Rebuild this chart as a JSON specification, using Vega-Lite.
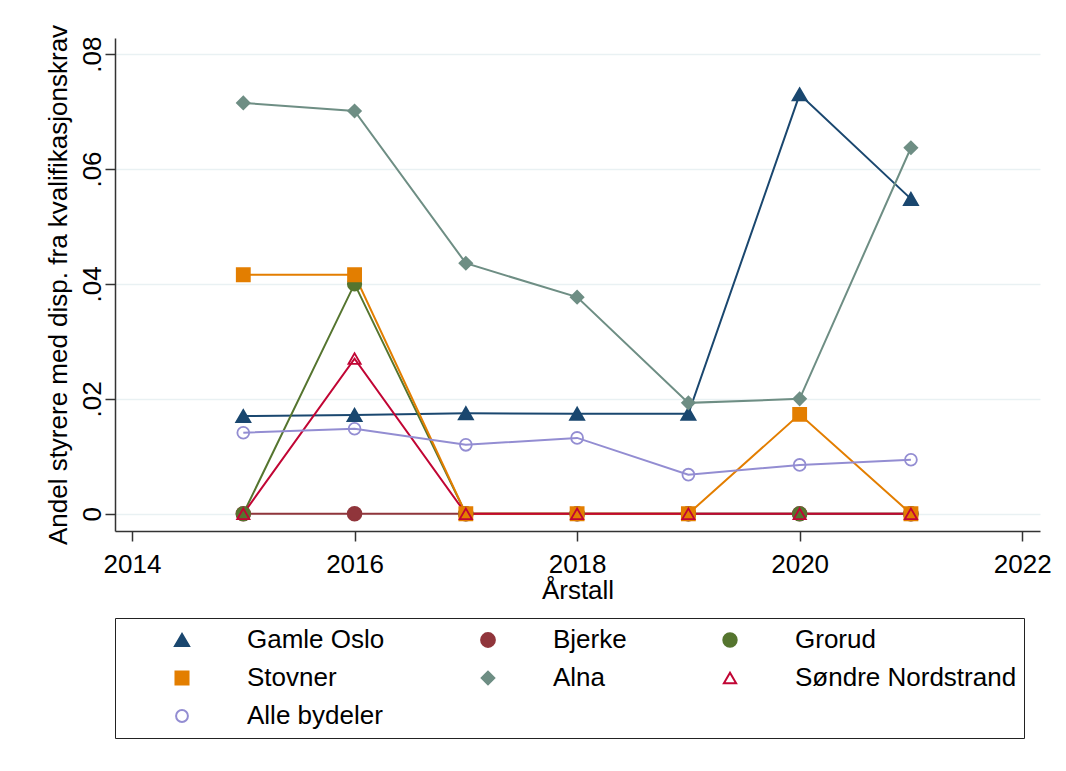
{
  "$schema": "https://vega.github.io/schema/vega-lite/v6.json",
  "autosize": {"type": "none"},
  "width": 925,
  "height": 493,
  "padding": {"left": 115, "top": 38, "right": 26, "bottom": 240},
  "background": "white",
  "config": {
    "view": {"stroke": null},
    "font": "Liberation Sans",
    "axis": {
      "labelFont": "Liberation Sans",
      "titleFont": "Liberation Sans",
      "labelFontSize": 26,
      "titleFontSize": 26,
      "titleFontWeight": "normal",
      "labelColor": "black",
      "titleColor": "black",
      "domainColor": "#333333",
      "tickColor": "#333333",
      "domainWidth": 1.5,
      "tickWidth": 1.5,
      "tickSize": 10,
      "labelOverlap": false,
      "labelFlush": false
    }
  },
  "data": {
    "values": [
      {"year": 2015, "series": "Gamle Oslo", "value": 0.0170},
      {"year": 2016, "series": "Gamle Oslo", "value": 0.0172},
      {"year": 2017, "series": "Gamle Oslo", "value": 0.0175},
      {"year": 2018, "series": "Gamle Oslo", "value": 0.0174},
      {"year": 2019, "series": "Gamle Oslo", "value": 0.0174},
      {"year": 2020, "series": "Gamle Oslo", "value": 0.0730},
      {"year": 2021, "series": "Gamle Oslo", "value": 0.0548},
      {"year": 2015, "series": "Bjerke", "value": 0},
      {"year": 2016, "series": "Bjerke", "value": 0},
      {"year": 2017, "series": "Bjerke", "value": 0},
      {"year": 2018, "series": "Bjerke", "value": 0},
      {"year": 2019, "series": "Bjerke", "value": 0},
      {"year": 2020, "series": "Bjerke", "value": 0},
      {"year": 2021, "series": "Bjerke", "value": 0},
      {"year": 2015, "series": "Grorud", "value": 0},
      {"year": 2016, "series": "Grorud", "value": 0.0400},
      {"year": 2017, "series": "Grorud", "value": 0},
      {"year": 2018, "series": "Grorud", "value": 0},
      {"year": 2019, "series": "Grorud", "value": 0},
      {"year": 2020, "series": "Grorud", "value": 0},
      {"year": 2021, "series": "Grorud", "value": 0},
      {"year": 2015, "series": "Stovner", "value": 0.0416},
      {"year": 2016, "series": "Stovner", "value": 0.0416},
      {"year": 2017, "series": "Stovner", "value": 0},
      {"year": 2018, "series": "Stovner", "value": 0},
      {"year": 2019, "series": "Stovner", "value": 0},
      {"year": 2020, "series": "Stovner", "value": 0.0173},
      {"year": 2021, "series": "Stovner", "value": 0},
      {"year": 2015, "series": "Alna", "value": 0.0715},
      {"year": 2016, "series": "Alna", "value": 0.0701},
      {"year": 2017, "series": "Alna", "value": 0.0436},
      {"year": 2018, "series": "Alna", "value": 0.0377},
      {"year": 2019, "series": "Alna", "value": 0.0193},
      {"year": 2020, "series": "Alna", "value": 0.0200},
      {"year": 2021, "series": "Alna", "value": 0.0637},
      {"year": 2015, "series": "Søndre Nordstrand", "value": 0},
      {"year": 2016, "series": "Søndre Nordstrand", "value": 0.0270},
      {"year": 2017, "series": "Søndre Nordstrand", "value": 0},
      {"year": 2018, "series": "Søndre Nordstrand", "value": 0},
      {"year": 2019, "series": "Søndre Nordstrand", "value": 0},
      {"year": 2020, "series": "Søndre Nordstrand", "value": 0},
      {"year": 2021, "series": "Søndre Nordstrand", "value": 0},
      {"year": 2015, "series": "Alle bydeler", "value": 0.0141},
      {"year": 2016, "series": "Alle bydeler", "value": 0.0148},
      {"year": 2017, "series": "Alle bydeler", "value": 0.0120},
      {"year": 2018, "series": "Alle bydeler", "value": 0.0132},
      {"year": 2019, "series": "Alle bydeler", "value": 0.0068},
      {"year": 2020, "series": "Alle bydeler", "value": 0.0085},
      {"year": 2021, "series": "Alle bydeler", "value": 0.0094}
    ]
  },
  "encoding": {
    "x": {
      "field": "year",
      "type": "quantitative",
      "scale": {"domain": [2013.847, 2022.16], "nice": false, "zero": false},
      "axis": {
        "values": [2014, 2016, 2018, 2020, 2022],
        "format": "d",
        "title": "Årstall",
        "grid": false,
        "labelPadding": 10,
        "titlePadding": 0
      }
    },
    "y": {
      "field": "value",
      "type": "quantitative",
      "scale": {"domain": [-0.003, 0.0828], "nice": false, "zero": false},
      "axis": {
        "values": [0, 0.02, 0.04, 0.06, 0.08],
        "labelExpr": "datum.value == 0 ? '0' : replace(format(datum.value, '.2f'), '0.', '.')",
        "title": "Andel styrere med disp. fra kvalifikasjonskrav",
        "grid": true,
        "gridColor": "#e9f1f3",
        "gridWidth": 1.5,
        "labelAngle": -90,
        "labelAlign": "center",
        "labelBaseline": "alphabetic",
        "labelPadding": 5,
        "titlePadding": 8
      }
    }
  },
  "layer": [
    {
      "mark": {"type": "line", "strokeWidth": 2},
      "encoding": {
        "stroke": {
          "field": "series",
          "type": "nominal",
          "scale": {
            "domain": ["Gamle Oslo", "Bjerke", "Grorud", "Stovner", "Alna", "Søndre Nordstrand", "Alle bydeler"],
            "range": ["#1a476f", "#90353b", "#55752f", "#e37e00", "#6e8e84", "#c10534", "#938dd2"]
          },
          "legend": {
            "title": null,
            "orient": "bottom",
            "direction": "horizontal",
            "columns": 3,
            "labelFont": "Liberation Sans",
            "labelFontSize": 26,
            "labelColor": "black",
            "labelLimit": 400,
            "labelOffset": 52,
            "symbolStrokeWidth": 2,
            "symbolOffset": 47,
            "symbolOpacity": 1,
            "clipHeight": 30,
            "rowPadding": 8,
            "columnPadding": 43,
            "padding": 7,
            "strokeColor": "#222222",
            "fillColor": "white",
            "offset": 15
          }
        }
      }
    },
    {
      "mark": {"type": "point", "filled": false, "strokeWidth": 1.8, "opacity": 1},
      "encoding": {
        "color": {
          "field": "series",
          "type": "nominal",
          "scale": {
            "domain": ["Gamle Oslo", "Bjerke", "Grorud", "Stovner", "Alna", "Søndre Nordstrand", "Alle bydeler"],
            "range": ["#1a476f", "#90353b", "#55752f", "#e37e00", "#6e8e84", "#c10534", "#938dd2"]
          },
          "legend": null
        },
        "shape": {
          "field": "series",
          "type": "nominal",
          "scale": {
            "domain": ["Gamle Oslo", "Bjerke", "Grorud", "Stovner", "Alna", "Søndre Nordstrand", "Alle bydeler"],
            "range": ["triangle-up", "circle", "circle", "square", "diamond", "triangle-up", "circle"]
          },
          "legend": null
        },
        "fill": {
          "field": "series",
          "type": "nominal",
          "scale": {
            "domain": ["Gamle Oslo", "Bjerke", "Grorud", "Stovner", "Alna", "Søndre Nordstrand", "Alle bydeler"],
            "range": ["#1a476f", "#90353b", "#55752f", "#e37e00", "#6e8e84", "transparent", "transparent"]
          },
          "legend": null
        },
        "size": {
          "field": "series",
          "type": "nominal",
          "scale": {
            "domain": ["Gamle Oslo", "Bjerke", "Grorud", "Stovner", "Alna", "Søndre Nordstrand", "Alle bydeler"],
            "range": [200, 140, 140, 160, 300, 180, 120]
          },
          "legend": null
        }
      }
    }
  ]
}
